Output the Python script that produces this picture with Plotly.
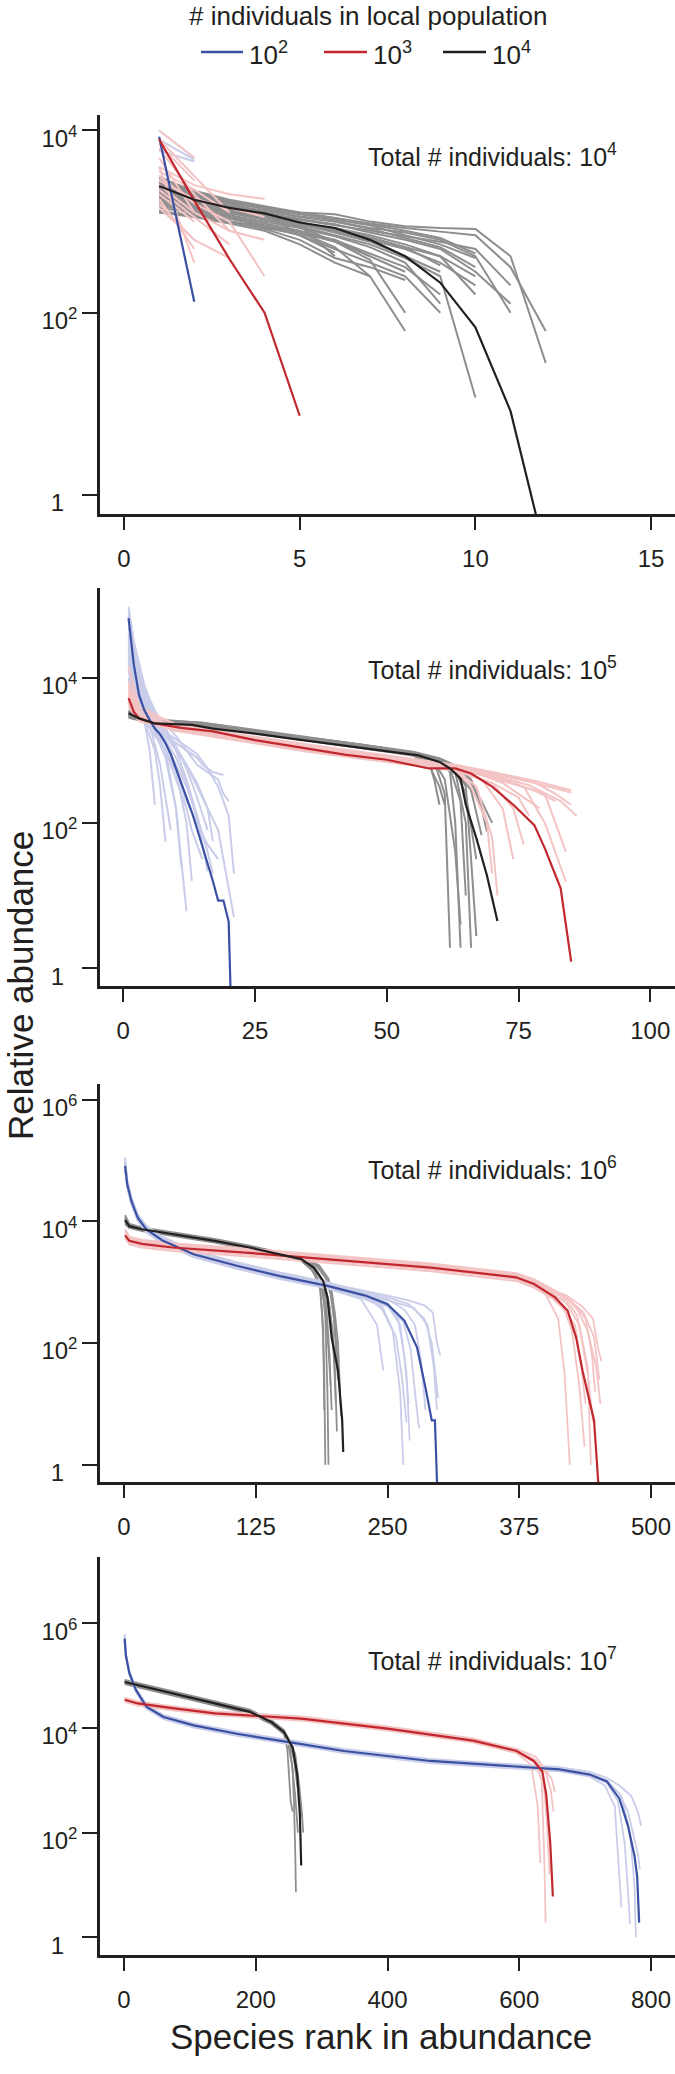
import plotly.graph_objects as go

# ---------------------------------------------------------------
# Values as log10(relative abundance)
# against species rank.  Each replicate line is a (ranks, log10) pair.
# ---------------------------------------------------------------

# ---------------- Panel 1 : total 10^4 ----------------
p1_blue_mean = ([1, 2], [3.93, 2.12])
p1_red_mean = ([1, 2, 3, 4, 5], [3.90, 3.23, 2.59, 2.00, 0.87])
p1_black_mean = ([1, 2, 3, 4, 5, 6, 7, 8, 9, 10, 11, 12],
                 [3.39, 3.24, 3.15, 3.09, 2.99, 2.93, 2.80, 2.62, 2.33, 1.84, 0.92, -0.65])
p1_blue_reps = [([1, 2], [4.00, 3.70]), ([1, 2], [3.90, 3.68]), ([1, 2], [3.78, 3.66])]
p1_red_reps = [
    ([1, 2], [4.00, 3.70]),
    ([1, 2, 3], [3.80, 3.30, 2.90]),
    ([1, 2, 3, 4], [3.60, 3.40, 3.30, 3.25]),
    ([1, 2, 3, 4], [3.50, 3.20, 3.00, 2.40]),
    ([1, 2], [3.30, 3.00]),
    ([1, 2, 3], [3.20, 2.80, 2.60]),
    ([1, 2], [3.60, 2.55]),
    ([1, 2, 3, 4], [3.40, 3.10, 2.90, 2.80]),
    ([1, 2, 3], [3.90, 3.50, 3.10]),
    ([1, 2], [3.15, 2.80]),
    ([1, 2], [3.70, 3.10]),
    ([1, 2, 3], [3.55, 3.35, 3.10]),
    ([1, 2, 3, 4], [3.45, 3.25, 3.15, 3.05]),
    ([1, 2], [3.85, 3.45]),
    ([1, 2, 3], [3.35, 3.05, 2.75]),
    ([1, 2], [3.25, 2.70]),
]
p1_grey_reps = [
    ([1, 2, 3, 4, 5, 6, 7, 8, 9, 10, 11, 12], [3.45, 3.30, 3.20, 3.15, 3.10, 3.08, 3.00, 2.95, 2.93, 2.92, 2.62, 1.45]),
    ([1, 2, 3, 4, 5, 6, 7, 8, 9, 10, 11], [3.40, 3.28, 3.18, 3.12, 3.05, 3.00, 2.93, 2.88, 2.80, 2.62, 2.00]),
    ([1, 2, 3, 4, 5, 6, 7, 8, 9, 10], [3.35, 3.25, 3.15, 3.08, 3.00, 2.90, 2.80, 2.70, 2.55, 2.30]),
    ([1, 2, 3, 4, 5, 6, 7, 8, 9, 10], [3.30, 3.20, 3.10, 3.02, 2.95, 2.85, 2.75, 2.60, 2.40, 1.07]),
    ([1, 2, 3, 4, 5, 6, 7, 8, 9], [3.25, 3.15, 3.05, 2.98, 2.90, 2.80, 2.65, 2.50, 2.20]),
    ([1, 2, 3, 4, 5, 6, 7, 8, 9], [3.20, 3.12, 3.05, 2.95, 2.85, 2.70, 2.55, 2.40, 2.00]),
    ([1, 2, 3, 4, 5, 6, 7, 8], [3.15, 3.10, 3.00, 2.92, 2.80, 2.60, 2.50, 2.36]),
    ([1, 2, 3, 4, 5, 6, 7, 8], [3.10, 3.05, 2.98, 2.90, 2.75, 2.55, 2.40, 1.80]),
    ([1, 2, 3, 4, 5, 6], [3.50, 3.30, 3.20, 3.10, 2.85, 2.66]),
    ([1, 2, 3, 4, 5, 6, 7, 8, 9, 10], [3.45, 3.32, 3.22, 3.16, 3.08, 3.02, 2.96, 2.85, 2.75, 2.60]),
    ([1, 2, 3, 4, 5, 6, 7, 8, 9, 10, 11], [3.38, 3.26, 3.17, 3.10, 3.03, 2.97, 2.88, 2.80, 2.70, 2.45, 2.10]),
    ([1, 2, 3, 4, 5, 6, 7, 8, 9], [3.28, 3.18, 3.10, 3.05, 2.97, 2.88, 2.78, 2.62, 2.45]),
    ([1, 2, 3, 4, 5, 6, 7], [3.10, 3.08, 3.00, 2.95, 2.88, 2.72, 2.40]),
    ([1, 2, 3, 4, 5, 6, 7, 8, 9, 10], [3.33, 3.22, 3.12, 3.06, 2.98, 2.93, 2.85, 2.75, 2.62, 2.20]),
    ([1, 2, 3, 4, 5, 6, 7, 8, 9, 10], [3.42, 3.30, 3.22, 3.14, 3.06, 3.00, 2.92, 2.82, 2.72, 2.50]),
    ([1, 2, 3, 4, 5, 6, 7, 8, 9, 10, 11], [3.36, 3.24, 3.16, 3.09, 3.02, 2.96, 2.90, 2.84, 2.78, 2.70, 2.30]),
    ([1, 2, 3, 4, 5, 6, 7, 8, 9], [3.22, 3.14, 3.07, 3.00, 2.93, 2.84, 2.72, 2.55, 2.10]),
    ([1, 2, 3, 4, 5, 6, 7, 8, 9, 10], [3.48, 3.34, 3.24, 3.17, 3.10, 3.04, 2.97, 2.90, 2.82, 2.65]),
    ([1, 2, 3, 4, 5, 6, 7, 8], [3.18, 3.10, 3.03, 2.96, 2.88, 2.78, 2.62, 2.45]),
    ([1, 2, 3, 4, 5, 6, 7, 8, 9], [3.31, 3.21, 3.13, 3.06, 2.99, 2.91, 2.83, 2.72, 2.52]),
    ([1, 2, 3, 4, 5, 6, 7, 8, 9, 10], [3.27, 3.19, 3.11, 3.05, 2.97, 2.90, 2.82, 2.72, 2.62, 2.40]),
    ([1, 2, 3, 4, 5, 6, 7, 8, 9, 10, 11, 12], [3.44, 3.31, 3.21, 3.14, 3.09, 3.04, 2.98, 2.93, 2.89, 2.85, 2.50, 1.80]),
    ([1, 2, 3, 4, 5, 6, 7], [3.12, 3.06, 3.00, 2.93, 2.86, 2.80, 2.62]),
    ([1, 2, 3, 4, 5, 6], [3.37, 3.27, 3.17, 3.08, 2.96, 2.62]),
    ([1, 2, 3, 4, 5, 6, 7, 8], [3.24, 3.16, 3.09, 3.03, 2.94, 2.78, 2.58, 2.00]),
]

# ---------------- Panel 2 : total 10^5 ----------------
p2_blue_mean = (list(range(1, 22)),
                [4.82, 4.18, 3.76, 3.55, 3.42, 3.30, 3.22, 3.10, 2.95, 2.75, 2.55, 2.37, 2.15,
                 1.92, 1.68, 1.45, 1.20, 0.93, 0.93, 0.64, -2.0])
p2_red_mean = ([1, 2, 3, 6, 11, 17, 25, 34, 42, 50, 58, 63, 66, 70, 74, 78, 80, 83, 85],
               [3.72, 3.53, 3.44, 3.37, 3.31, 3.26, 3.14, 3.03, 2.94, 2.87, 2.75, 2.75, 2.68,
                2.50, 2.25, 1.97, 1.65, 1.10, 0.09])
p2_black_mean = ([1, 3, 6, 13, 17, 25, 34, 42, 50, 56, 60, 62, 64, 65, 67, 69, 71],
                 [3.51, 3.44, 3.37, 3.35, 3.30, 3.23, 3.14, 3.06, 2.99, 2.93, 2.84, 2.75, 2.61,
                  2.25, 1.79, 1.28, 0.65])
p2_blue_reps = [
    ([1, 2, 4, 6, 8, 10, 12, 14, 16, 17], [4.98, 4.50, 3.90, 3.50, 3.30, 3.00, 2.60, 2.10, 1.60, 1.30]),
    ([1, 2, 4, 6, 8, 10, 12, 14, 16, 18, 19, 20], [4.80, 4.30, 3.80, 3.50, 3.35, 3.20, 3.00, 2.80, 2.70, 2.60, 2.40, 2.30]),
    ([1, 2, 4, 6, 8, 10, 12, 14, 16, 18, 19, 21], [4.60, 4.20, 3.70, 3.40, 3.20, 3.00, 2.80, 2.50, 2.20, 1.90, 1.50, 0.70]),
    ([1, 2, 3, 4, 5, 6], [4.40, 4.00, 3.70, 3.40, 3.00, 2.25]),
    ([1, 2, 3, 4, 5, 6, 7, 8], [4.30, 3.90, 3.60, 3.40, 3.20, 3.00, 2.50, 1.74]),
    ([1, 2, 4, 6, 8, 10, 11, 12], [4.50, 4.10, 3.60, 3.30, 3.00, 2.20, 1.50, 0.78]),
    ([1, 2, 4, 6, 8, 10, 12, 14, 16], [4.20, 3.80, 3.50, 3.30, 3.10, 2.80, 2.50, 2.10, 1.33]),
    ([1, 2, 4, 6, 8, 10, 12, 14, 15, 17, 19], [4.10, 3.70, 3.45, 3.30, 3.20, 3.10, 3.00, 2.90, 2.80, 2.70, 2.66]),
    ([1, 2, 4, 6, 8, 10, 12, 13, 15], [4.00, 3.60, 3.40, 3.20, 3.00, 2.60, 2.20, 1.90, 1.50]),
    ([1, 2, 4, 6, 8, 10, 12, 14, 16, 18], [4.90, 4.40, 3.70, 3.30, 3.00, 2.70, 2.30, 2.00, 1.70, 1.50]),
    ([1, 2, 4, 6, 8, 10, 12, 14], [4.25, 3.90, 3.60, 3.35, 3.15, 2.90, 2.55, 2.05]),
    ([1, 2, 4, 6, 8, 10, 12, 14, 16], [4.70, 4.20, 3.75, 3.45, 3.25, 3.05, 2.75, 2.35, 1.90]),
    ([1, 2, 4, 6, 8, 10, 12, 13], [4.55, 4.05, 3.65, 3.40, 3.10, 2.70, 2.00, 1.20]),
    ([1, 2, 4, 6, 8, 10, 12, 14, 16, 18, 20, 21], [4.35, 4.00, 3.55, 3.35, 3.25, 3.15, 3.05, 2.95, 2.75, 2.50, 2.10, 1.30]),
    ([1, 2, 4, 6, 8, 10, 11], [4.15, 3.85, 3.50, 3.25, 2.90, 2.20, 1.40]),
    ([1, 2, 4, 6, 8, 10, 12, 14, 16, 17], [4.85, 4.35, 3.85, 3.55, 3.30, 3.05, 2.80, 2.55, 2.20, 1.75]),
    ([1, 2, 3, 5, 7, 9], [4.45, 4.05, 3.75, 3.35, 2.80, 1.90]),
]
p2_red_reps = [
    ([1, 3, 10, 20, 35, 50, 63, 70, 78, 85], [4.15, 3.60, 3.35, 3.22, 3.04, 2.90, 2.78, 2.68, 2.55, 2.42]),
    ([1, 3, 10, 20, 35, 50, 63, 70, 78, 82], [3.90, 3.50, 3.32, 3.20, 3.02, 2.88, 2.75, 2.62, 2.45, 2.30]),
    ([1, 3, 10, 20, 35, 50, 63, 70, 75, 77], [3.80, 3.48, 3.30, 3.18, 3.00, 2.86, 2.73, 2.55, 2.35, 2.10]),
    ([1, 3, 10, 20, 35, 50, 63, 68, 72, 74], [3.70, 3.45, 3.29, 3.20, 3.03, 2.89, 2.76, 2.60, 2.20, 1.50]),
    ([1, 3, 10, 20, 35, 50, 63, 70, 76, 80, 84], [3.75, 3.46, 3.31, 3.22, 3.05, 2.91, 2.77, 2.65, 2.50, 2.00, 1.19]),
    ([1, 3, 10, 20, 35, 50, 63, 67, 70, 71], [3.65, 3.43, 3.28, 3.17, 3.01, 2.87, 2.74, 2.50, 1.80, 1.00]),
    ([1, 3, 10, 20, 35, 50, 63, 70, 77, 83, 86], [3.85, 3.50, 3.33, 3.21, 3.04, 2.90, 2.77, 2.66, 2.52, 2.30, 2.10]),
    ([1, 3, 10, 20, 35, 50, 63, 70, 80, 84], [3.60, 3.40, 3.28, 3.19, 3.02, 2.88, 2.75, 2.63, 2.40, 1.60]),
    ([1, 3, 10, 20, 35, 50, 63, 70, 78, 85], [3.95, 3.55, 3.36, 3.24, 3.08, 2.93, 2.80, 2.70, 2.58, 2.45]),
    ([1, 3, 10, 20, 35, 50, 63, 70, 74, 76], [3.68, 3.44, 3.27, 3.15, 2.98, 2.84, 2.72, 2.55, 2.20, 1.70]),
    ([1, 3, 10, 20, 35, 50, 63, 68, 72, 75, 79], [3.72, 3.47, 3.30, 3.19, 3.03, 2.89, 2.76, 2.66, 2.55, 2.40, 2.20]),
    ([1, 3, 10, 20, 35, 50, 63, 66, 69, 70], [3.62, 3.42, 3.27, 3.16, 3.00, 2.86, 2.73, 2.50, 2.00, 1.30]),
    ([1, 3, 10, 20, 35, 50, 63, 70, 78, 82, 85], [3.78, 3.49, 3.32, 3.21, 3.05, 2.91, 2.78, 2.68, 2.56, 2.40, 2.25]),
]
p2_grey_reps = [
    ([1, 5, 15, 30, 45, 55, 58, 60, 61], [3.55, 3.40, 3.37, 3.20, 3.06, 2.93, 2.80, 2.50, 2.25]),
    ([1, 5, 15, 30, 45, 55, 59, 61, 62], [3.50, 3.40, 3.36, 3.19, 3.04, 2.95, 2.85, 2.40, 0.28]),
    ([1, 5, 15, 30, 45, 55, 60, 62, 63, 64], [3.45, 3.38, 3.35, 3.21, 3.07, 2.96, 2.86, 2.70, 2.00, 0.28]),
    ([1, 5, 15, 30, 45, 55, 60, 63, 65, 66], [3.48, 3.39, 3.34, 3.18, 3.05, 2.94, 2.85, 2.70, 2.00, 0.28]),
    ([1, 5, 15, 30, 45, 55, 60, 63, 65, 66, 67], [3.52, 3.41, 3.36, 3.22, 3.08, 2.97, 2.88, 2.75, 2.50, 1.50, 0.44]),
    ([1, 5, 15, 30, 45, 55, 60, 63, 66, 68], [3.47, 3.38, 3.35, 3.20, 3.06, 2.95, 2.87, 2.73, 2.45, 1.83]),
    ([1, 5, 15, 30, 45, 55, 60, 63, 66, 68, 69], [3.50, 3.40, 3.37, 3.21, 3.07, 2.96, 2.88, 2.78, 2.60, 2.20, 1.88]),
    ([1, 5, 15, 30, 45, 55, 58, 59, 60], [3.46, 3.38, 3.34, 3.19, 3.04, 2.93, 2.85, 2.60, 2.25]),
    ([1, 5, 15, 30, 45, 55, 60, 62, 64, 65], [3.53, 3.42, 3.38, 3.22, 3.08, 2.97, 2.87, 2.75, 2.30, 1.00]),
    ([1, 5, 15, 30, 45, 55, 60, 63, 65, 67], [3.49, 3.39, 3.36, 3.21, 3.06, 2.95, 2.86, 2.72, 2.40, 1.50]),
    ([1, 5, 15, 30, 45, 55, 59, 61, 63, 64], [3.51, 3.41, 3.37, 3.20, 3.05, 2.94, 2.84, 2.60, 1.60, 0.60]),
    ([1, 5, 15, 30, 45, 55, 60, 64, 66, 68, 70], [3.54, 3.43, 3.38, 3.23, 3.09, 2.98, 2.89, 2.76, 2.55, 2.30, 2.00]),
]

# ---------------- Panel 3 : total 10^6 ----------------
p3_blue_mean = ([1, 3, 7, 13, 21, 37, 66, 107, 148, 193, 229, 250, 266, 278, 286, 292, 295, 298],
                [4.91, 4.61, 4.33, 4.06, 3.87, 3.68, 3.46, 3.27, 3.10, 2.94, 2.78, 2.64, 2.37,
                 1.93, 1.27, 0.73, 0.73, -0.80])
p3_red_mean = ([1, 5, 17, 46, 127, 209, 291, 372, 389, 409, 421, 429, 435, 446, 452],
               [3.77, 3.68, 3.63, 3.57, 3.47, 3.36, 3.24, 3.08, 2.97, 2.75, 2.53, 2.09, 1.55, 0.73, -0.80])
p3_black_mean = ([1, 5, 17, 46, 86, 119, 148, 168, 180, 189, 193, 197, 203, 207, 208],
                 [4.02, 3.92, 3.87, 3.79, 3.68, 3.57, 3.46, 3.38, 3.24, 3.02, 2.75, 2.09, 1.55, 0.73, 0.21])
p3_blue_reps = [
    ([1, 3, 7, 13, 21, 37, 66, 107, 148, 193, 225, 245, 255, 262, 265],
     [5.05, 4.70, 4.40, 4.12, 3.93, 3.74, 3.52, 3.33, 3.16, 3.00, 2.84, 2.55, 2.20, 1.20, 0.00]),
    ([1, 3, 7, 13, 21, 37, 66, 107, 148, 193, 229, 250, 270, 285, 292, 296, 298],
     [4.98, 4.66, 4.37, 4.10, 3.90, 3.71, 3.50, 3.31, 3.14, 2.98, 2.84, 2.75, 2.64, 2.40, 2.00, 1.40, 1.10]),
    ([1, 3, 7, 13, 21, 37, 66, 107, 148, 193, 225, 240, 246],
     [4.85, 4.56, 4.28, 4.01, 3.82, 3.63, 3.41, 3.22, 3.05, 2.90, 2.72, 2.30, 1.55]),
    ([1, 3, 7, 13, 21, 37, 66, 107, 148, 193, 229, 250, 266, 276, 282, 286],
     [4.93, 4.63, 4.35, 4.08, 3.89, 3.70, 3.48, 3.29, 3.12, 2.96, 2.82, 2.72, 2.55, 2.30, 1.70, 0.90]),
    ([1, 3, 7, 13, 21, 37, 66, 107, 148, 193, 229, 250, 265, 272, 276, 280],
     [4.88, 4.58, 4.30, 4.03, 3.85, 3.66, 3.44, 3.25, 3.08, 2.92, 2.76, 2.60, 2.35, 1.90, 1.20, 0.60]),
    ([1, 3, 7, 13, 21, 37, 66, 107, 148, 193, 229, 250, 270, 285, 293, 297, 300],
     [5.00, 4.68, 4.38, 4.11, 3.92, 3.73, 3.51, 3.32, 3.15, 2.99, 2.86, 2.78, 2.70, 2.62, 2.50, 2.00, 1.80]),
    ([1, 3, 7, 13, 21, 37, 66, 107, 148, 193, 229, 250, 262, 268, 271],
     [4.90, 4.57, 4.29, 4.02, 3.83, 3.64, 3.42, 3.23, 3.06, 2.90, 2.74, 2.62, 2.30, 1.50, 0.40]),
    ([1, 3, 7, 13, 21, 37, 66, 107, 148, 193, 229, 250, 260, 266, 270],
     [4.95, 4.64, 4.36, 4.09, 3.90, 3.71, 3.49, 3.30, 3.13, 2.97, 2.80, 2.66, 2.40, 1.80, 1.00]),
    ([1, 3, 7, 13, 21, 37, 66, 107, 148, 193, 229, 250, 275, 288, 294, 297],
     [4.92, 4.60, 4.32, 4.05, 3.86, 3.67, 3.45, 3.26, 3.09, 2.93, 2.79, 2.70, 2.58, 2.30, 1.60, 0.90]),
    ([1, 3, 7, 13, 21, 37, 66, 107, 148, 193, 225, 245, 258, 264, 268],
     [4.87, 4.59, 4.31, 4.04, 3.84, 3.65, 3.43, 3.24, 3.07, 2.91, 2.75, 2.60, 2.10, 1.40, 0.70]),
]
p3_red_reps = [
    ([1, 5, 17, 46, 127, 209, 291, 372, 389, 405, 420, 430, 440, 448, 452],
     [3.87, 3.75, 3.70, 3.64, 3.54, 3.43, 3.31, 3.15, 3.05, 2.90, 2.75, 2.55, 2.20, 1.60, 1.00]),
    ([1, 5, 17, 46, 127, 209, 291, 372, 389, 400, 412, 418, 423],
     [3.80, 3.71, 3.66, 3.60, 3.50, 3.39, 3.27, 3.11, 3.00, 2.80, 2.40, 1.50, 0.00]),
    ([1, 5, 17, 46, 127, 209, 291, 372, 389, 405, 420, 430, 440, 445],
     [3.74, 3.65, 3.60, 3.54, 3.44, 3.33, 3.21, 3.05, 2.94, 2.80, 2.70, 2.45, 1.50, 0.70]),
    ([1, 5, 17, 46, 127, 209, 291, 372, 389, 405, 418, 425, 432, 437],
     [3.72, 3.62, 3.57, 3.51, 3.41, 3.30, 3.18, 3.02, 2.91, 2.75, 2.55, 2.20, 1.30, 0.30]),
    ([1, 5, 17, 46, 127, 209, 291, 372, 389, 405, 420, 435, 445, 450, 453],
     [3.82, 3.73, 3.68, 3.62, 3.52, 3.41, 3.29, 3.13, 3.02, 2.88, 2.78, 2.60, 2.40, 1.90, 1.70]),
    ([1, 5, 17, 46, 127, 209, 291, 372, 389, 405, 420, 432, 440, 443],
     [3.78, 3.69, 3.64, 3.58, 3.48, 3.37, 3.25, 3.09, 2.98, 2.83, 2.65, 2.30, 1.60, 0.00]),
    ([1, 5, 17, 46, 127, 209, 291, 372, 389, 405, 425, 438, 444, 447],
     [3.84, 3.72, 3.67, 3.61, 3.51, 3.40, 3.28, 3.12, 3.01, 2.86, 2.68, 2.40, 1.80, 1.20]),
    ([1, 5, 17, 46, 127, 209, 291, 372, 389, 405, 415, 428, 434, 438],
     [3.76, 3.66, 3.61, 3.55, 3.45, 3.34, 3.22, 3.06, 2.95, 2.78, 2.60, 2.30, 1.60, 1.00]),
    ([1, 5, 17, 46, 127, 209, 291, 372, 389, 405, 422, 436, 446, 451],
     [3.79, 3.70, 3.65, 3.59, 3.49, 3.38, 3.26, 3.10, 2.99, 2.85, 2.72, 2.50, 2.10, 1.40]),
]
p3_grey_reps = [
    ([1, 5, 17, 46, 86, 119, 148, 168, 180, 186, 188, 190, 191],
     [4.10, 3.96, 3.90, 3.82, 3.71, 3.60, 3.49, 3.40, 3.22, 2.95, 2.50, 1.50, 0.00]),
    ([1, 5, 17, 46, 86, 119, 148, 168, 180, 189, 192, 195, 197],
     [4.06, 3.94, 3.88, 3.80, 3.69, 3.58, 3.48, 3.39, 3.25, 3.00, 2.60, 1.80, 0.90]),
    ([1, 5, 17, 46, 86, 119, 148, 168, 182, 190, 194, 198, 200, 202],
     [3.98, 3.90, 3.85, 3.77, 3.66, 3.55, 3.44, 3.37, 3.22, 2.98, 2.70, 2.20, 1.60, 0.55]),
    ([1, 5, 17, 46, 86, 119, 148, 168, 183, 192, 196, 200, 204, 206],
     [4.04, 3.93, 3.88, 3.81, 3.70, 3.59, 3.47, 3.40, 3.26, 3.05, 2.80, 2.30, 1.40, 0.80]),
    ([1, 5, 17, 46, 86, 119, 148, 168, 178, 187, 191, 194, 196],
     [3.95, 3.89, 3.84, 3.76, 3.65, 3.54, 3.43, 3.35, 3.20, 2.95, 2.55, 1.90, 1.30]),
    ([1, 5, 17, 46, 86, 119, 148, 168, 184, 193, 197, 200, 203, 205],
     [4.00, 3.91, 3.86, 3.78, 3.68, 3.56, 3.46, 3.38, 3.27, 3.08, 2.85, 2.50, 2.00, 1.20]),
    ([1, 5, 17, 46, 86, 119, 148, 168, 181, 188, 191, 193, 194],
     [4.03, 3.93, 3.87, 3.80, 3.69, 3.57, 3.47, 3.39, 3.23, 3.00, 2.40, 1.20, 0.00]),
    ([1, 5, 17, 46, 86, 119, 148, 168, 182, 190, 195, 199, 201],
     [3.97, 3.90, 3.85, 3.78, 3.67, 3.56, 3.45, 3.37, 3.21, 2.97, 2.60, 1.80, 1.00]),
    ([1, 5, 17, 46, 86, 119, 148, 168, 185, 194, 198, 201, 203],
     [4.08, 3.95, 3.89, 3.81, 3.70, 3.59, 3.48, 3.40, 3.28, 3.06, 2.70, 2.00, 1.40]),
    ([1, 5, 17, 46, 86, 119, 148, 168, 179, 186, 189, 190],
     [4.01, 3.92, 3.86, 3.79, 3.68, 3.57, 3.46, 3.38, 3.20, 2.90, 2.20, 0.90]),
]

# ---------------- Panel 4 : total 10^7 ----------------
p4_blue_mean = ([1, 3, 8, 18, 34, 60, 106, 171, 236, 334, 465, 596, 661, 707, 733, 752, 765, 775, 779, 782],
                [5.71, 5.38, 5.06, 4.73, 4.41, 4.21, 4.05, 3.89, 3.76, 3.56, 3.37, 3.27, 3.21, 3.11,
                 2.98, 2.65, 2.13, 1.55, 1.16, 0.28])
p4_red_mean = ([1, 21, 73, 138, 269, 400, 530, 596, 622, 635, 641, 647, 651],
               [4.54, 4.47, 4.38, 4.28, 4.18, 3.99, 3.76, 3.56, 3.37, 3.17, 2.72, 1.81, 0.78])
p4_black_mean = ([1, 27, 73, 138, 191, 223, 243, 256, 263, 267, 269],
                 [4.88, 4.80, 4.67, 4.47, 4.31, 4.12, 3.92, 3.63, 3.11, 2.33, 1.37])
p4_blue_reps = [
    ([1, 3, 8, 18, 34, 60, 106, 171, 236, 334, 465, 596, 661, 707, 733, 752, 770, 780, 785],
     [5.80, 5.42, 5.10, 4.77, 4.45, 4.25, 4.09, 3.93, 3.80, 3.60, 3.41, 3.31, 3.25, 3.16, 3.05, 2.90, 2.70, 2.40, 2.13]),
    ([1, 3, 8, 18, 34, 60, 106, 171, 236, 334, 465, 596, 661, 707, 730, 745, 750, 755],
     [5.65, 5.34, 5.02, 4.69, 4.37, 4.17, 4.01, 3.85, 3.72, 3.52, 3.33, 3.23, 3.17, 3.07, 2.90, 2.50, 1.50, 0.57]),
    ([1, 3, 8, 18, 34, 60, 106, 171, 236, 334, 465, 596, 661, 707, 733, 755, 768, 775, 777],
     [5.75, 5.40, 5.08, 4.75, 4.43, 4.23, 4.07, 3.91, 3.78, 3.58, 3.39, 3.29, 3.23, 3.13, 3.00, 2.70, 2.00, 1.00, 0.00]),
    ([1, 3, 8, 18, 34, 60, 106, 171, 236, 334, 465, 596, 661, 707, 733, 750, 760, 765, 768],
     [5.68, 5.36, 5.04, 4.71, 4.39, 4.19, 4.03, 3.87, 3.74, 3.54, 3.35, 3.25, 3.19, 3.09, 2.95, 2.60, 1.80, 0.90, 0.25]),
    ([1, 3, 8, 18, 34, 60, 106, 171, 236, 334, 465, 596, 661, 707, 733, 752, 765, 772, 780, 783],
     [5.72, 5.37, 5.07, 4.72, 4.42, 4.20, 4.06, 3.88, 3.77, 3.55, 3.38, 3.26, 3.22, 3.10, 2.99, 2.75, 2.40, 2.00, 1.60, 1.30]),
]
p4_red_reps = [
    ([1, 21, 73, 138, 269, 400, 530, 596, 625, 640, 650, 654],
     [4.58, 4.51, 4.42, 4.32, 4.22, 4.03, 3.80, 3.60, 3.45, 3.20, 3.00, 2.78]),
    ([1, 21, 73, 138, 269, 400, 530, 596, 618, 628, 632],
     [4.50, 4.43, 4.34, 4.24, 4.14, 3.95, 3.72, 3.52, 3.30, 2.50, 1.42]),
    ([1, 21, 73, 138, 269, 400, 530, 596, 622, 634, 638, 640],
     [4.56, 4.49, 4.40, 4.30, 4.20, 4.01, 3.78, 3.58, 3.40, 3.00, 1.50, 0.28]),
    ([1, 21, 73, 138, 269, 400, 530, 596, 622, 636, 642, 646],
     [4.52, 4.45, 4.36, 4.26, 4.16, 3.97, 3.74, 3.54, 3.35, 3.10, 2.20, 1.20]),
    ([1, 21, 73, 138, 269, 400, 530, 596, 624, 640, 648, 652],
     [4.55, 4.46, 4.39, 4.27, 4.19, 3.98, 3.77, 3.55, 3.40, 3.15, 2.80, 2.40]),
]
p4_grey_reps = [
    ([1, 27, 73, 138, 191, 223, 243, 252, 258, 262, 266, 270],
     [4.92, 4.84, 4.71, 4.51, 4.35, 4.16, 3.96, 3.70, 3.40, 3.00, 2.60, 2.30]),
    ([1, 27, 73, 138, 191, 223, 243, 248, 250, 253, 256],
     [4.84, 4.76, 4.63, 4.43, 4.27, 4.08, 3.88, 3.60, 3.20, 2.60, 2.40]),
    ([1, 27, 73, 138, 191, 223, 243, 252, 256, 258, 260, 261],
     [4.88, 4.80, 4.67, 4.47, 4.31, 4.12, 3.92, 3.60, 3.20, 2.60, 1.60, 0.86]),
    ([1, 27, 73, 138, 191, 223, 243, 252, 260, 266, 270, 272],
     [4.90, 4.82, 4.69, 4.49, 4.33, 4.14, 3.94, 3.75, 3.50, 2.90, 2.40, 2.00]),
    ([1, 27, 73, 138, 191, 223, 243, 250, 255, 260, 264],
     [4.86, 4.78, 4.65, 4.45, 4.29, 4.10, 3.90, 3.65, 3.30, 2.70, 2.00]),
]

# ---------------- axes / labels ----------------
x_ticks = [[0, 5, 10, 15], [0, 25, 50, 75, 100], [0, 125, 250, 375, 500], [0, 200, 400, 600, 800]]
x_ranges = [[-0.683, 15.68], [-4.42, 104.7], [-22.8, 522.8], [-36.4, 836.4]]
y_ranges = [[-0.208, 4.172], [-0.248, 5.238], [-0.284, 6.257], [-0.344, 7.27]]
y_tickvals = [[1, 100, 10000], [1, 100, 10000], [1, 100, 10000, 1000000], [1, 100, 10000, 1000000]]
y_ticktext = [["1\u00a0\u00a0", "10<sup>2</sup>", "10<sup>4</sup>"],
              ["1\u00a0\u00a0", "10<sup>2</sup>", "10<sup>4</sup>"],
              ["1\u00a0\u00a0", "10<sup>2</sup>", "10<sup>4</sup>", "10<sup>6</sup>"],
              ["1\u00a0\u00a0", "10<sup>2</sup>", "10<sup>4</sup>", "10<sup>6</sup>"]]
panel_labels = ["Total # individuals: 10<sup>4</sup>", "Total # individuals: 10<sup>5</sup>",
                "Total # individuals: 10<sup>6</sup>", "Total # individuals: 10<sup>7</sup>"]
legend_names = ["10<sup>2</sup>", "10<sup>3</sup>", "10<sup>4</sup>"]

# pixel layout (675 x 2074)
W, H = 675, 2074
panel_tops = [115, 589, 1086, 1560]
panel_bots = [515, 988, 1485, 1959]
label_y = [155, 669, 1170, 1662]

BLUE, RED, BLACK = "#3a51a3", "#c1272d", "#231f20"
LBLUE, PINK, GREY = "#c9cde9", "#f4c4c4", "#8e8e8e"
FONT = "Liberation Sans, Arial, Helvetica, sans-serif"

panels = [
    (p1_blue_reps, p1_red_reps, p1_grey_reps, p1_blue_mean, p1_red_mean, p1_black_mean),
    (p2_blue_reps, p2_red_reps, p2_grey_reps, p2_blue_mean, p2_red_mean, p2_black_mean),
    (p3_blue_reps, p3_red_reps, p3_grey_reps, p3_blue_mean, p3_red_mean, p3_black_mean),
    (p4_blue_reps, p4_red_reps, p4_grey_reps, p4_blue_mean, p4_red_mean, p4_black_mean),
]
rep_width = [2.0, 2.0, 1.8, 1.8]


def to_abund(logs):
    return [10 ** v for v in logs]


fig = go.Figure()
for i, (breps, rreps, greps, bmean, rmean, kmean) in enumerate(panels):
    xa = "x" if i == 0 else f"x{i + 1}"
    ya = "y" if i == 0 else f"y{i + 1}"
    for reps, col in ((greps, GREY), (breps, LBLUE), (rreps, PINK)):
        for r, v in reps:
            fig.add_trace(go.Scatter(x=r, y=to_abund(v), mode="lines", xaxis=xa, yaxis=ya,
                                     line=dict(color=col, width=rep_width[i]), showlegend=False,
                                     hoverinfo="skip"))
    for (r, v), col in ((bmean, BLUE), (rmean, RED), (kmean, BLACK)):
        fig.add_trace(go.Scatter(x=r, y=to_abund(v), mode="lines", xaxis=xa, yaxis=ya,
                                 line=dict(color=col, width=2.2), showlegend=False))

layout = dict(width=W, height=H, margin=dict(l=0, r=0, t=0, b=0),
              paper_bgcolor="white", plot_bgcolor="white",
              font=dict(family=FONT, color=BLACK), showlegend=False)
for i in range(4):
    xk = "xaxis" if i == 0 else f"xaxis{i + 1}"
    yk = "yaxis" if i == 0 else f"yaxis{i + 1}"
    ydom = [1 - panel_bots[i] / H, 1 - panel_tops[i] / H]
    layout[xk] = dict(domain=[100 / W, 1], range=x_ranges[i], tickvals=x_ticks[i],
                      anchor="y" if i == 0 else f"y{i + 1}",
                      showline=True, linecolor=BLACK, linewidth=2.5, ticks="outside",
                      ticklen=13, tickwidth=2, tickcolor=BLACK, showgrid=False, zeroline=False,
                      tickfont=dict(size=24, family=FONT, color=BLACK), ticklabelstandoff=8)
    layout[yk] = dict(domain=ydom, type="log", range=y_ranges[i], tickvals=y_tickvals[i],
                      ticktext=y_ticktext[i], anchor="x" if i == 0 else f"x{i + 1}",
                      showline=True, linecolor=BLACK, linewidth=2.5, ticks="outside",
                      ticklen=15, tickwidth=2, tickcolor=BLACK, showgrid=False, zeroline=False,
                      tickfont=dict(size=24, family=FONT, color=BLACK), ticklabelshift=8,
                      ticklabelstandoff=0)
fig.update_layout(**layout)

ann = []
for i in range(4):
    ann.append(dict(text=panel_labels[i], x=366 / W, y=1 - label_y[i] / H, xref="paper", yref="paper",
                    xanchor="left", yanchor="middle", showarrow=False,
                    font=dict(size=25, family=FONT, color=BLACK)))
ann.append(dict(text="Relative abundance", x=20 / W, y=1 - 988 / H, xref="paper", yref="paper",
                textangle=-90, xanchor="center", yanchor="middle", showarrow=False,
                font=dict(size=35, family=FONT, color=BLACK)))
ann.append(dict(text="Species rank in abundance", x=381 / W, y=1 - 2040 / H, xref="paper", yref="paper",
                xanchor="center", yanchor="middle", showarrow=False,
                font=dict(size=35, family=FONT, color=BLACK)))
# legend (manual)
ann.append(dict(text="# individuals in local population", x=368 / W, y=1 - 16 / H, xref="paper",
                yref="paper", xanchor="center", yanchor="middle", showarrow=False,
                font=dict(size=26, family=FONT, color=BLACK)))
leg_x = [(201, 243), (324, 367), (443, 486)]
leg_cols = [BLUE, RED, BLACK]
shapes = []
for (x0, x1), col, name in zip(leg_x, leg_cols, legend_names):
    shapes.append(dict(type="line", xref="paper", yref="paper", x0=x0 / W, x1=x1 / W,
                       y0=1 - 52 / H, y1=1 - 52 / H, line=dict(color=col, width=2.5)))
    ann.append(dict(text=name, x=(x1 + 4) / W, y=1 - 54 / H, xref="paper", yref="paper",
                    xanchor="left", yanchor="middle", showarrow=False,
                    font=dict(size=26, family=FONT, color=BLACK)))
fig.update_layout(annotations=ann, shapes=shapes)

fig.write_html("out.html", config={"displayModeBar": False},
               post_script="document.body.style.margin='0';document.body.style.padding='0';")
